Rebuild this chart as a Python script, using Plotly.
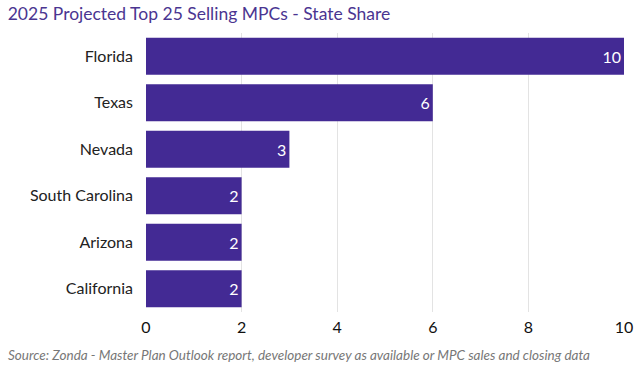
import plotly.graph_objects as go

states = ["Florida", "Texas", "Nevada", "South Carolina", "Arizona", "California"]
counts = [10, 6, 3, 2, 2, 2]
x_ticks = [0, 2, 4, 6, 8, 10]

FONT = "Lato, 'Open Sans', sans-serif"
BAR = "#432a94"

fig = go.Figure(go.Bar(
    y=states, x=counts, orientation="h",
    marker=dict(color=BAR, line=dict(width=0)),
    text=[str(c) for c in counts], textposition="inside",
    insidetextanchor="end",
    textfont=dict(color="white", size=16, family=FONT),
    width=0.8,
))

fig.update_layout(
    width=644, height=367,
    margin=dict(l=146, r=20, t=33, b=55, pad=0),
    paper_bgcolor="white", plot_bgcolor="white",
    showlegend=False,
    font=dict(family=FONT, color="#222222", size=16),
    title=dict(text="2025 Projected Top 25 Selling MPCs - State Share",
               xref="container", x=0.012, xanchor="left",
               yref="container", y=0.98, yanchor="top",
               pad=dict(l=0, t=0, r=0, b=0),
               font=dict(size=17.5, color="#4a3591", family=FONT)),
    xaxis=dict(range=[0, 10], tickvals=x_ticks, showgrid=True,
               gridcolor="#e3e3e3", gridwidth=1, zeroline=False,
               tickfont=dict(size=16, color="#111111"), fixedrange=True,
               showline=False, ticks="", ticklabelstandoff=4, automargin=False),
    yaxis=dict(categoryorder="array", categoryarray=states, autorange="reversed",
               tickfont=dict(size=16, color="#222222"), ticks="",
               ticklabelstandoff=12, showgrid=False, automargin=False),
    bargap=0.2,
)

fig.add_annotation(
    text="<i>Source: Zonda - Master Plan Outlook report, developer survey as available or MPC sales and closing data</i>",
    xref="paper", yref="paper", x=-0.293, y=-0.12, xanchor="left", yanchor="top",
    showarrow=False, font=dict(size=13.5, color="#777777", family=FONT),
)

fig.write_html("out.html", config={"displayModeBar": False},
               post_script="document.body.style.margin='0';")
